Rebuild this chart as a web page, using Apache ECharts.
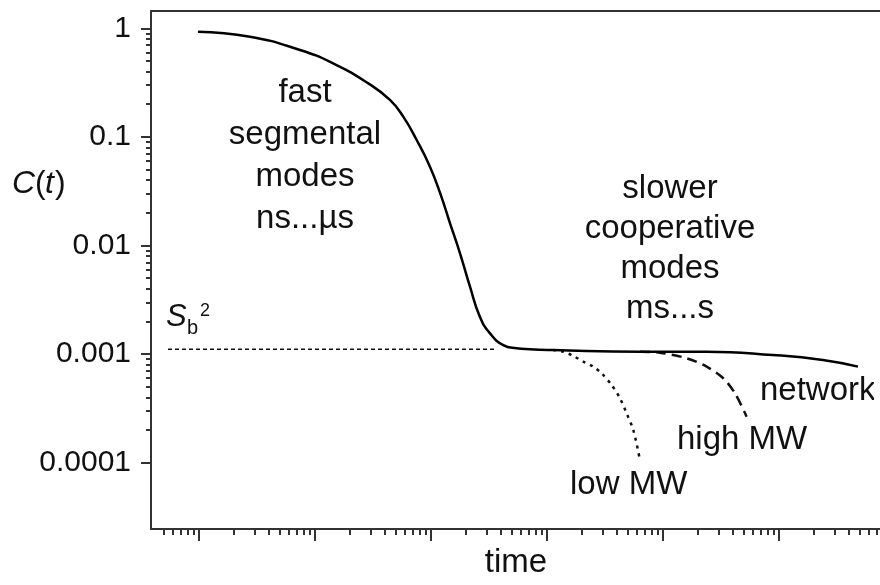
<!DOCTYPE html>
<html>
<head>
<meta charset="utf-8">
<script src="https://cdn.jsdelivr.net/npm/echarts@6/dist/echarts.min.js"></script>
<style>
  html, body { margin: 0; padding: 0; background: #fff; }
  #main { width: 880px; height: 585px; }
</style>
</head>
<body>
<div id="main"></div>
<script>
// solid curve: fast decay then the network plateau
var mainTime = [9.8e-10, 2.75e-9, 7.43e-9, 1.43e-8, 2.86e-8, 4.43e-8, 5.77e-8, 7.53e-8, 9.8e-8, 1.2e-7,
                1.46e-7, 1.78e-7, 2.17e-7, 2.64e-7, 3.23e-7, 4.2e-7, 5.48e-7, 7.13e-7, 1.13e-6, 6.34e-6,
                2.38e-5, 8.87e-5, 2.39e-4, 4.8e-4];
var mainC = [0.93, 0.837, 0.631, 0.476, 0.313, 0.219, 0.1535, 0.0936, 0.0532, 0.0303,
             0.016, 0.00848, 0.00417, 0.00221, 0.00155, 0.00121, 0.00113, 0.001107, 0.00109, 0.001053,
             0.001053, 0.000981, 0.000883, 0.000766];
// low MW branch (dotted)
var lowTime = [1.13e-6, 1.38e-6, 1.69e-6, 2.06e-6, 2.51e-6, 2.96e-6, 3.61e-6, 4.26e-6, 4.86e-6, 5.55e-6, 6.25e-6];
var lowC = [0.00109, 0.001052, 0.00096, 0.000851, 0.000766, 0.000665, 0.000519, 0.000391, 0.000285, 0.0002, 0.0001135];
// high MW branch (dashed)
var highTime = [6.34e-6, 9.42e-6, 1.6e-5, 2.38e-5, 3.31e-5, 4.18e-5, 5.26e-5];
var highC = [0.001053, 0.00103, 0.000915, 0.000766, 0.000599, 0.000435, 0.000265];
// plateau level S_b^2
var sbTime = [5.41e-10, 3.56e-7];
var sbC = [0.00111, 0.00111];

var yLabels = ['1', '0.1', '0.01', '0.001', '0.0001'];
var yMajor = [1, 0.1, 0.01, 0.001, 0.0001];
var xMajor = [1e-9, 1e-8, 1e-7, 1e-6, 1e-5, 1e-4];

var xMin = 3.86e-10, xMax = 7.43e-4;
var yMin = 2.45e-5, yMax = 1.443;

// log minor ticks 2..9 of each decade, skipping any that sit on the axis ends
function minorsOf(majors, lo, hi) {
  var out = [];
  [majors[0] / 10].concat(majors).forEach(function (m) {
    for (var k = 2; k <= 9; k++) {
      var v = m * k;
      if (v > lo * 1.08 && v < hi) out.push(v);
    }
  });
  return out;
}
var xMinor = minorsOf(xMajor, xMin, xMax);
var yMinor = minorsOf(yMajor, yMin, yMax);

function pairs(a, b) { return a.map(function (v, i) { return [v, b[i]]; }); }

var font = 'Liberation Sans, Arial, sans-serif';
var ink = '#111';
var axisCol = '#333';

function txt(x, y, s, size, opts) {
  opts = opts || {};
  return { type: 'text', style: {
    x: x, y: y, text: s, font: (opts.italic ? 'italic ' : '') + size + 'px ' + font, fill: ink,
    textAlign: opts.align || 'left', align: opts.align || 'left',
    textVerticalAlign: 'middle', verticalAlign: 'middle', lineHeight: opts.lh } };
}

var chart = echarts.init(document.getElementById('main'));
chart.setOption({
  animation: false,
  backgroundColor: '#fff',
  grid: { left: 151, top: 11, bottom: 56, right: 0 },
  xAxis: [
    { type: 'log', min: xMin, max: xMax, position: 'bottom',
      axisLine: { show: true, lineStyle: { color: axisCol, width: 2 } },
      axisTick: { show: true, inside: false, length: 12, customValues: xMajor, lineStyle: { color: axisCol, width: 2 } },
      axisLabel: { show: false }, splitLine: { show: false } },
    { type: 'log', min: xMin, max: xMax, position: 'bottom',
      axisLine: { show: false },
      axisTick: { show: true, inside: false, length: 6, customValues: xMinor, lineStyle: { color: axisCol, width: 2 } },
      axisLabel: { show: false }, splitLine: { show: false } },
    { type: 'log', min: xMin, max: xMax, position: 'top',
      axisLine: { show: true, lineStyle: { color: axisCol, width: 2 } },
      axisTick: { show: false }, axisLabel: { show: false }, splitLine: { show: false } }
  ],
  yAxis: [
    { type: 'log', min: yMin, max: yMax, position: 'left',
      axisLine: { show: true, lineStyle: { color: axisCol, width: 2 } },
      axisTick: { show: true, inside: false, length: 10, customValues: yMajor, lineStyle: { color: axisCol, width: 2 } },
      axisLabel: { show: true, margin: 20, customValues: yMajor, color: ink, fontSize: 30, fontFamily: font,
        formatter: function (v) { return yLabels[Math.round(-Math.log10(v))]; } },
      splitLine: { show: false } },
    { type: 'log', min: yMin, max: yMax, position: 'left',
      axisLine: { show: false },
      axisTick: { show: true, inside: false, length: 5, customValues: yMinor, lineStyle: { color: axisCol, width: 2 } },
      axisLabel: { show: false }, splitLine: { show: false } }
  ],
  series: [
    { name: 'Sb2', type: 'line', data: pairs(sbTime, sbC), showSymbol: false, silent: true,
      lineStyle: { color: '#111', width: 1.5, type: [4, 3] } },
    { name: 'low MW', type: 'line', data: pairs(lowTime, lowC), showSymbol: false, smooth: 0.3,
      lineStyle: { color: '#111', width: 2.5, type: [3, 5] } },
    { name: 'high MW', type: 'line', data: pairs(highTime, highC), showSymbol: false, smooth: 0.3,
      lineStyle: { color: '#111', width: 2.5, type: [10, 6] } },
    { name: 'network', type: 'line', data: pairs(mainTime, mainC), showSymbol: false, smooth: 0.5,
      lineStyle: { color: '#000', width: 2.5 } }
  ],
  graphic: [
    // the reference is cropped at the right: no closing frame edge
    { type: 'rect', z: 100, silent: true, shape: { x: 874, y: 13, width: 6, height: 514 }, style: { fill: '#fff' } },
    txt(305, 156, 'fast\nsegmental\nmodes\nns...µs', 33, { align: 'center', lh: 42 }),
    txt(670, 249, 'slower\ncooperative\nmodes\nms...s', 33, { align: 'center', lh: 40 }),
    txt(760, 391, 'network', 33),
    txt(677, 440, 'high MW', 33),
    txt(570, 485, 'low MW', 33),
    txt(516, 563, 'time', 33, { align: 'center' }),
    txt(12, 184, 'C', 32, { italic: true }),
    txt(35, 184, '(', 32),
    txt(45, 184, 't', 32, { italic: true }),
    txt(55, 184, ')', 32),
    txt(166, 317, 'S', 31, { italic: true }),
    txt(187, 328, 'b', 20),
    txt(200, 311, '2', 18)
  ]
});
</script>
</body>
</html>
